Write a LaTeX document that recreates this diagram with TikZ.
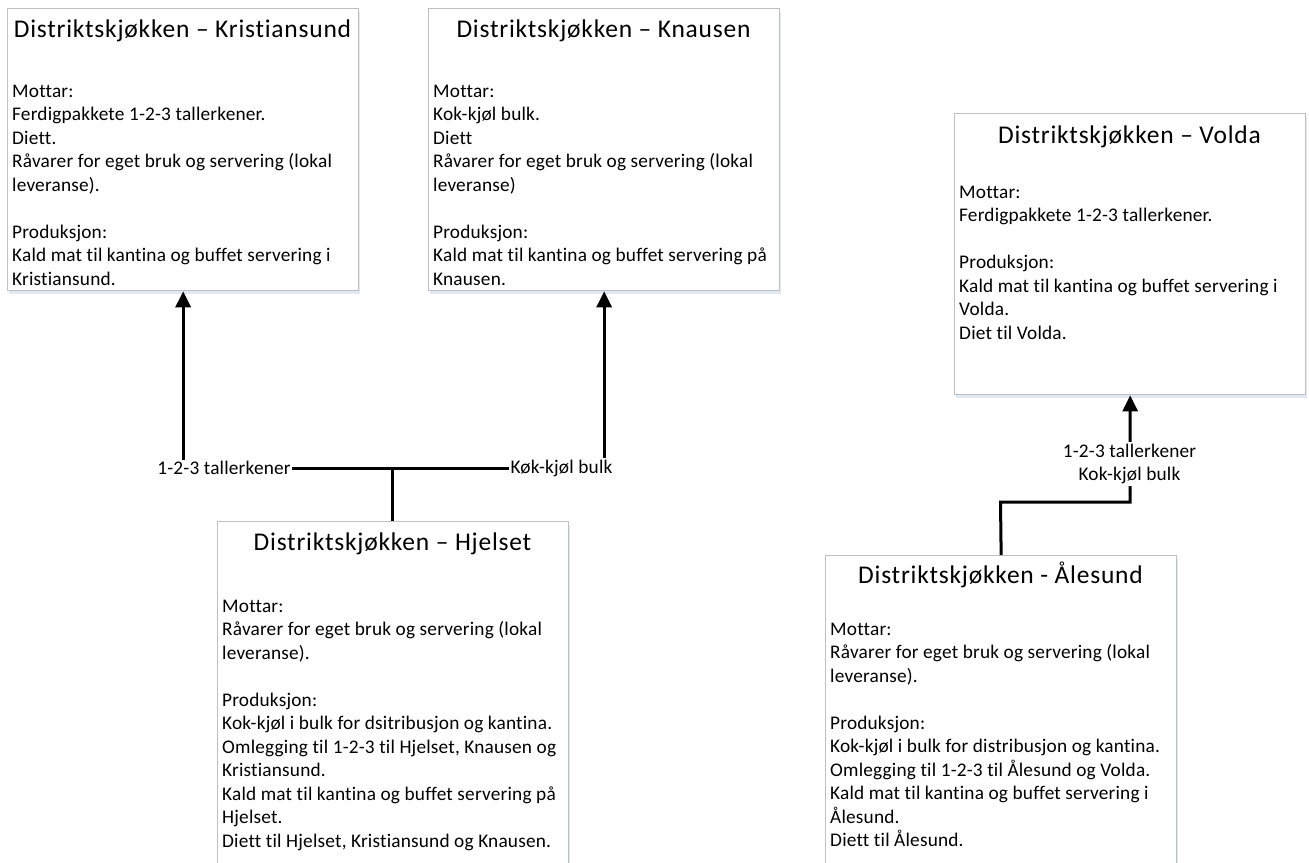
\documentclass[tikz,border=0pt]{standalone}
\usepackage{fontspec}
\setmainfont{Carlito}
\newfontfamily\ttlfont[LetterSpace=3.0,Ligatures=CommonOff]{Carlito}
\newfontfamily\bodyfont[LetterSpace=1.0,Ligatures=CommonOff]{Carlito}
\usetikzlibrary{arrows.meta,shadows}
\definecolor{boxline}{RGB}{192,192,192}
\definecolor{shadowc}{RGB}{224,232,244}
\tikzset{
  box/.style={draw=boxline, line width=1.3pt, fill=white, rectangle, anchor=north west,
    inner sep=0pt, minimum width=351pt,
    drop shadow={shadow xshift=1.5pt, shadow yshift=-3pt, fill=shadowc, opacity=1}},
  ttl/.style={font=\ttlfont\fontsize{25.5}{30}\selectfont, anchor=base, inner sep=0pt},
  body/.style={font=\bodyfont\fontsize{19.3}{23.5}\selectfont, align=left, anchor=base west, inner sep=0pt},
  lbl/.style={font=\bodyfont\fontsize{19.3}{23.5}\selectfont, align=center, fill=white, inner sep=1.5pt},
  conn/.style={line width=3pt, draw=black},
  arr/.style={conn, -{Triangle[width=15pt,length=16pt]}}
}
\begin{document}
\begin{tikzpicture}[x=1pt,y=-1pt]
\useasboundingbox (0,0) rectangle (1309,862);
% boxes
\node[box, minimum height=282pt] (kr) at (7,8) {};
\node[box, minimum height=282pt] (kn) at (428,8) {};
\node[box, minimum height=281pt] (vo) at (954,113) {};
\node[box, minimum height=400pt] (hj) at (217,521) {};
\node[box, minimum height=400pt] (al) at (825,555) {};
% titles
\node[ttl] (krt) at (182.5,37) {Distriktskjøkken – Kristiansund};
\node[ttl] (knt) at (603.5,37) {Distriktskjøkken – Knausen};
\node[ttl] (vot) at (1129.5,143) {Distriktskjøkken – Volda};
\node[ttl] (hjt) at (392.5,550) {Distriktskjøkken – Hjelset};
\node[ttl] (alt) at (1000.5,583) {Distriktskjøkken - Ålesund};
% bodies (anchored at the baseline of their last line)
\node[body] (krb) at (12,285) {Mottar:\\Ferdigpakkete 1-2-3 tallerkener.\\Diett.\\Råvarer for eget bruk og servering (lokal\\leveranse).\\[23.5pt]Produksjon:\\Kald mat til kantina og buffet servering i\\Kristiansund.};
\node[body] (knb) at (433,285) {Mottar:\\Kok-kjøl bulk.\\Diett\\Råvarer for eget bruk og servering (lokal\\leveranse)\\[23.5pt]Produksjon:\\Kald mat til kantina og buffet servering på\\Knausen.};
\node[body] (vob) at (959,339) {Mottar:\\Ferdigpakkete 1-2-3 tallerkener.\\[23.5pt]Produksjon:\\Kald mat til kantina og buffet servering i\\Volda.\\Diet til Volda.};
\node[body] (hjb) at (222,847) {Mottar:\\Råvarer for eget bruk og servering (lokal\\leveranse).\\[23.5pt]Produksjon:\\Kok-kjøl i bulk for dsitribusjon og kantina.\\Omlegging til 1-2-3 til Hjelset, Knausen og\\Kristiansund.\\Kald mat til kantina og buffet servering på\\Hjelset.\\Diett til Hjelset, Kristiansund og Knausen.};
\node[body] (alb) at (830,846.5) {Mottar:\\Råvarer for eget bruk og servering (lokal\\leveranse).\\[23.5pt]Produksjon:\\Kok-kjøl i bulk for distribusjon og kantina.\\Omlegging til 1-2-3 til Ålesund og Volda.\\Kald mat til kantina og buffet servering i\\Ålesund.\\Diett til Ålesund.};
% connectors
\coordinate (j) at (392.5,468);
\draw[conn] (hj.north -| j) -- (j);
\draw[arr] (j) -| (kr.south);
\draw[arr] (j) -| (kn.south);
\node[lbl] (l1) at (224,468) {1-2-3 tallerkener};
\node[lbl] (l2) at (561.5,468) {Køk-kjøl bulk};
\coordinate (b) at (1000.5,502);
\draw[arr] (al.north) -- (b) -| (vo.south);
\node[lbl] (l3) at (1129.5,464) {1-2-3 tallerkener\\Kok-kjøl bulk};
\end{tikzpicture}
\end{document}
